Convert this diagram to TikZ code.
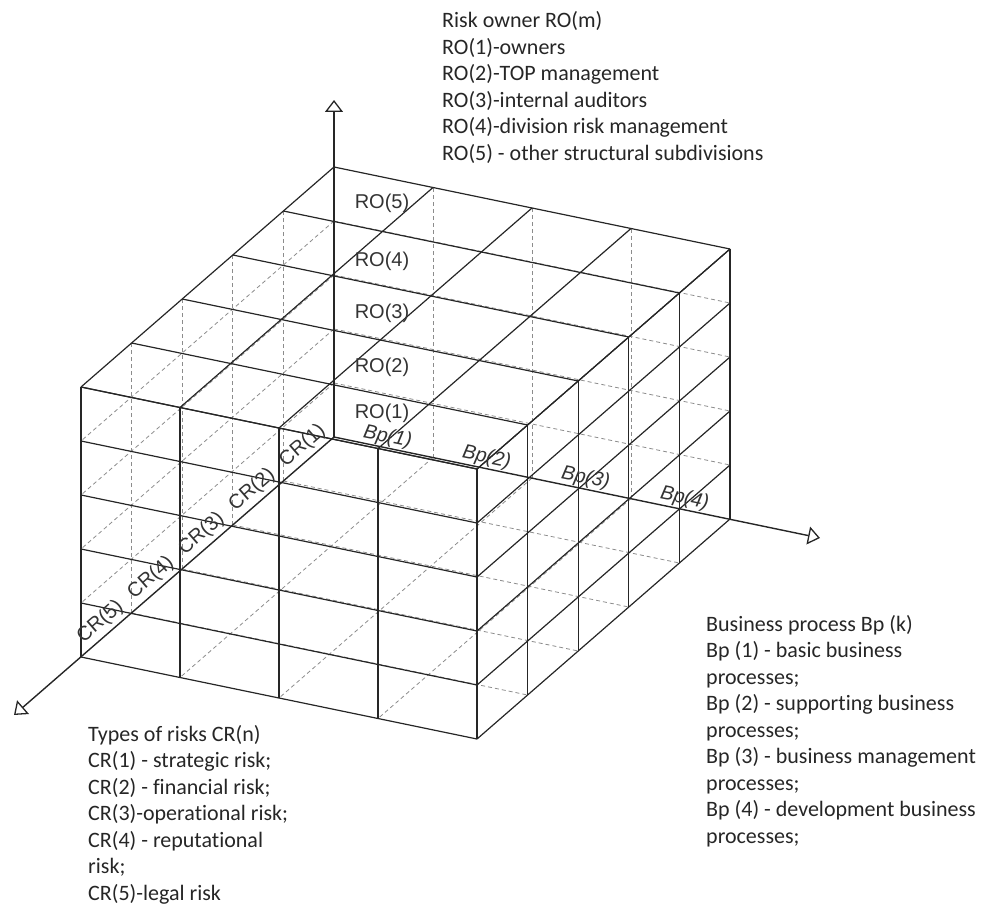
\documentclass[tikz,border=0pt]{standalone}
\usepackage{fontspec}
\setmainfont{Carlito}[Ligatures={NoCommon}]
\newfontfamily\labfont{Liberation Sans}
\usetikzlibrary{arrows.meta}
\begin{document}
\begin{tikzpicture}[x=1pt,y=-1pt,
  vis/.style={line width=1.2pt, draw=black!85},
  hid/.style={line width=0.8pt, draw=black!45, dash pattern=on 4pt off 3pt},
  axisline/.style={line width=1.4pt, draw=black!85, -{Triangle[open,length=12pt,width=18pt,line width=1.3pt]}},
  lab/.style={font=\labfont\fontsize{20}{22}\selectfont, text=black!80, inner sep=0pt},
  labi/.style={font=\labfont\itshape\fontsize{20}{22}\selectfont, text=black!80, inner sep=0pt},
  leg/.style={font=\fontsize{22}{26.5}\selectfont, text=black!85, anchor=base west, inner sep=0pt}]
\useasboundingbox (0,0) rectangle (981,904);
\begin{scope}[shift={(334,437)}, x={(-50.6pt,-44pt)}, y={(99pt,-20.5pt)}, z={(0pt,54pt)}]
  % hidden faces
  \foreach \i in {1,...,4} {
    \draw[hid] (\i,0,0) -- (\i,4,0);
    \draw[hid] (0,0,\i) -- (5,0,\i);
    \draw[hid] (\i,0,0) -- (\i,0,5);
    \draw[hid] (0,0,\i) -- (0,4,\i);
  }
  \foreach \j in {1,2,3} {
    \draw[hid] (0,\j,0) -- (5,\j,0);
    \draw[hid] (0,\j,0) -- (0,\j,5);
  }
  % visible faces
  \foreach \i in {0,...,5} {
    \draw[vis] (\i,0,5) -- (\i,4,5);
    \draw[vis] (5,0,\i) -- (5,4,\i);
    \draw[vis] (0,4,\i) -- (5,4,\i);
    \draw[vis] (\i,4,0) -- (\i,4,5);
  }
  \foreach \j in {0,...,4} {
    \draw[vis] (0,\j,5) -- (5,\j,5);
    \draw[vis] (5,\j,0) -- (5,\j,5);
  }
  \coordinate (O) at (0,0,0);
\end{scope}
% axes
\coordinate (tipRO) at (334,100);
\coordinate (tipCR) at (14,715);
\coordinate (tipBp) at (820,538);
\draw[axisline] (O) -- (tipRO);
\draw[axisline] (O) -- (tipCR);
\draw[axisline] (O) -- (tipBp);
% axis labels
\foreach \k/\y in {1/413,2/367,3/313,4/261,5/203}
  \node[lab] (ro\k) at (382,\y) {RO(\k)};
\foreach \k in {1,...,5}
  \node[lab, rotate=41] (cr\k) at ({334-50.6*(\k-0.5)-6},{437+44*(\k-0.5)-13}) {CR(\k)};
\foreach \k in {1,...,4}
  \node[labi, rotate=-11.7] (bp\k) at ({334+99*(\k-0.5)+4},{437+20.5*(\k-0.5)-10}) {Bp(\k)};
% legends
\foreach [count=\n] \t in {{Risk owner RO(m)},{RO(1)-owners},{RO(2)-TOP management},{RO(3)-internal auditors},{RO(4)-division risk management},{RO(5) - other structural subdivisions}}
  \node[leg] (ro-leg\n) at (442,{28+26.5*(\n-1)}) {\t};
\foreach [count=\n] \t in {{Types of risks CR(n)},{CR(1) - strategic risk;},{CR(2) - financial risk;},{CR(3)-operational risk;},{CR(4) - reputational},{risk;},{CR(5)-legal risk}}
  \node[leg] (cr-leg\n) at (88,{741+26.5*(\n-1)}) {\t};
\foreach [count=\n] \t in {{Business process Bp (k)},{Bp (1) - basic business},{processes;},{Bp (2) - supporting business},{processes;},{Bp (3) - business management},{processes;},{Bp (4) - development business},{processes;}}
  \node[leg] (bp-leg\n) at (706,{631+26.5*(\n-1)}) {\t};
\end{tikzpicture}
\end{document}
